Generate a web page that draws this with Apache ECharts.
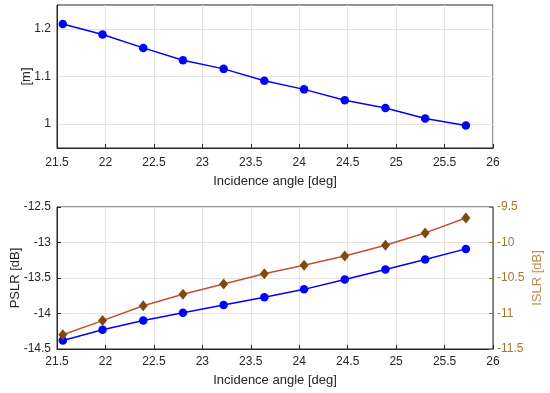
<!DOCTYPE html>
<html>
<head>
<meta charset="utf-8">
<script src="https://cdn.jsdelivr.net/npm/echarts@6/dist/echarts.min.js"></script>
<style>html,body{margin:0;padding:0;background:#fff}#c{width:550px;height:393px}</style>
</head>
<body>
<div id="c"></div>
<script>
var angles = [21.56, 21.97, 22.39, 22.80, 23.22, 23.64, 24.05, 24.47, 24.89, 25.30, 25.72];
var resolution = [1.210, 1.188, 1.160, 1.134, 1.116, 1.091, 1.073, 1.050, 1.034, 1.012, 0.997];
var pslr = [-14.38, -14.23, -14.10, -13.99, -13.88, -13.77, -13.66, -13.52, -13.38, -13.24, -13.09];
var islr = [-11.30, -11.10, -10.89, -10.73, -10.585, -10.44, -10.32, -10.19, -10.04, -9.865, -9.655];
var xTitle = 'Incidence angle [deg]';

function pairs(xs, ys){ return xs.map(function(x,i){ return [x, ys[i]]; }); }

var FONT = 'Liberation Sans, Arial, sans-serif';
var TXT = '#262626';
var GRIDC = '#e3e3e3';
var OLIVE = '#a0782c';

var chart = echarts.init(document.getElementById('c'), null, {renderer:'canvas'});
function xAxisCfg(gi, margin, gap){
  return {
    type:'value', gridIndex:gi, min:21.5, max:26, interval:0.5,
    name:xTitle, nameLocation:'middle', nameGap:gap, nameMoveOverlap:false,
    nameTextStyle:{color:TXT, fontSize:13, fontFamily:FONT},
    axisLine:{lineStyle:{color:TXT, width:1}},
    axisTick:{inside:true, length:4, lineStyle:{color:TXT}},
    axisLabel:{color:TXT, fontSize:12, fontFamily:FONT, margin:margin},
    splitLine:{show:true, lineStyle:{color:GRIDC, width:1}}
  };
}
var option = {
  animation:false,
  backgroundColor:'#fff',
  grid:[
    {left:57, right:57, top:5, height:143, show:true, borderColor:TXT, borderWidth:1, backgroundColor:'transparent', containLabel:false, outerBoundsMode:'none'},
    {left:57, right:57, top:207, height:142, show:true, borderColor:TXT, borderWidth:1, backgroundColor:'transparent', containLabel:false, outerBoundsMode:'none'}
  ],
  xAxis:[xAxisCfg(0, 9, 27), xAxisCfg(1, 7, 25)],
  yAxis:[
    {type:'value', gridIndex:0, min:0.95, max:1.25, interval:0.05,
     name:'[m]', nameLocation:'middle', nameGap:24, nameMoveOverlap:false,
     nameTextStyle:{color:TXT, fontSize:13, fontFamily:FONT},
     axisLine:{show:true, lineStyle:{color:TXT}},
     axisTick:{show:false},
     axisLabel:{color:TXT, fontSize:12, fontFamily:FONT, margin:6,
       formatter:function(v){ var r=Math.round(v*100); return (r%10===0)? String(Math.round(v*10)/10) : ''; }},
     splitLine:{show:true, lineStyle:{color:['rgba(0,0,0,0)', GRIDC], width:1}}},
    {type:'value', gridIndex:1, min:-14.5, max:-12.5, interval:0.5, position:'left',
     name:'PSLR [dB]', nameLocation:'middle', nameGap:35, nameMoveOverlap:false,
     nameTextStyle:{color:TXT, fontSize:13, fontFamily:FONT},
     axisLine:{show:true, lineStyle:{color:TXT}},
     axisTick:{show:true, inside:true, length:4, lineStyle:{color:TXT}},
     axisLabel:{color:TXT, fontSize:12, fontFamily:FONT, margin:6},
     splitLine:{show:true, lineStyle:{color:GRIDC}}},
    {type:'value', gridIndex:1, min:-11.5, max:-9.5, interval:0.5, position:'right',
     name:'ISLR [dB]', nameLocation:'middle', nameGap:38, nameMoveOverlap:false,
     nameTextStyle:{color:'#c08a52', fontSize:13, fontFamily:FONT},
     axisLine:{show:true, lineStyle:{color:OLIVE}},
     axisTick:{show:true, inside:true, length:4, lineStyle:{color:OLIVE}},
     axisLabel:{color:OLIVE, fontSize:12, fontFamily:FONT, margin:4},
     splitLine:{show:false}}
  ],
  series:[
    {type:'line', xAxisIndex:0, yAxisIndex:0, data:pairs(angles, resolution), z:3,
     lineStyle:{color:'#0000ff', width:1.5}, symbol:'circle', symbolSize:8.5, showAllSymbol:true,
     itemStyle:{color:'#0000ff'}},
    {type:'line', xAxisIndex:1, yAxisIndex:1, data:pairs(angles, pslr), z:3,
     lineStyle:{color:'#0000ff', width:1.5}, symbol:'circle', symbolSize:8.5, showAllSymbol:true,
     itemStyle:{color:'#0000ff'}},
    {type:'line', xAxisIndex:1, yAxisIndex:2, data:pairs(angles, islr), z:3,
     lineStyle:{color:'#c4502a', width:1.5}, symbol:'diamond', symbolSize:[9,11], showAllSymbol:true,
     itemStyle:{color:'#7f4a12'}}
  ]
};
chart.setOption(option);
</script>
</body>
</html>
